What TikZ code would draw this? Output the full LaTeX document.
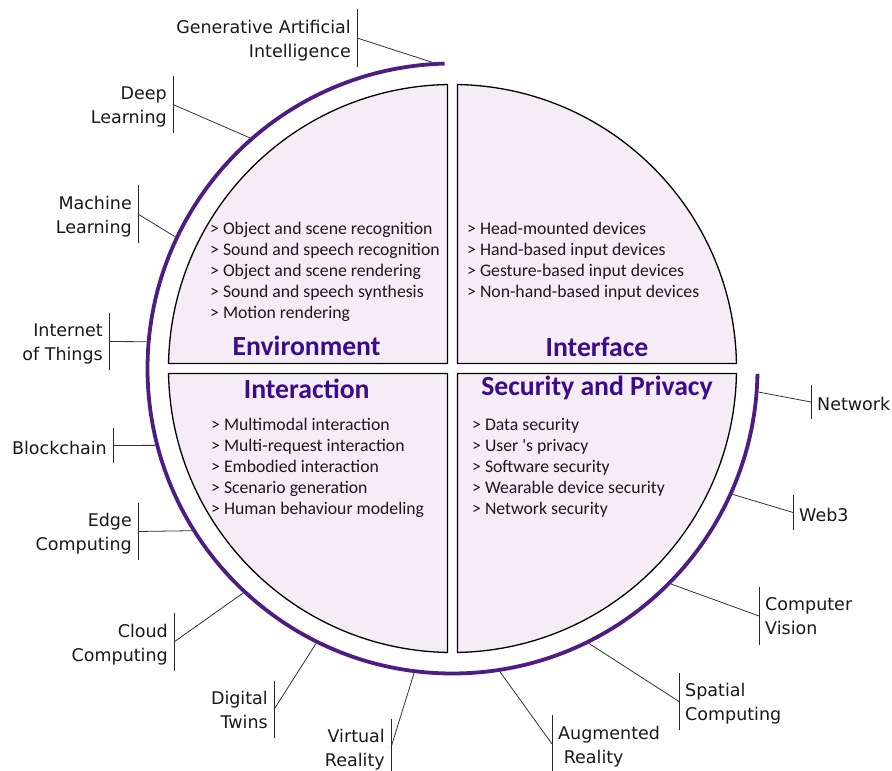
\documentclass[tikz,border=0pt]{standalone}
\usepackage{fontspec}
\setmainfont{DejaVu Sans}
\newfontfamily\carlito{Carlito}

\definecolor{quadfill}{RGB}{246,236,246}
\definecolor{ringcol}{RGB}{78,28,130}
\definecolor{titlecol}{RGB}{58,12,140}

\tikzstyle {quarter} = [draw=black, fill=quadfill, line width=1.3pt]
\tikzstyle {ring} = [draw=ringcol, line width=3.8pt]
\tikzstyle {heading} = [text=titlecol, font=\carlito\bfseries\fontsize{27.7}{32}\selectfont, inner sep=0pt, anchor=base]
\tikzstyle {item} = [text=black!90, font=\carlito\fontsize{17.7}{21}\selectfont, inner sep=0pt, anchor=base west]
\tikzstyle {techlabel} = [text=black!90, font=\fontsize{17.5}{24}\selectfont, inner xsep=6pt, inner ysep=0pt, execute at begin node=\strut, execute at end node=\strut]
\tikzstyle {leftlab} = [techlabel, align=right, anchor=east]
\tikzstyle {rightlab} = [techlabel, align=left, anchor=west]
\tikzstyle {bar} = [draw=black!85, line width=0.9pt]
\tikzstyle {link} = [draw=black!80, line width=0.8pt]

\begin{document}
\begin{tikzpicture}[x=1pt, y=1pt]
\useasboundingbox (0,0) rectangle (892,771);
\coordinate (C) at (452.5,402.5);

% four quarters
\draw[quarter] (447.5,407.5) -- ([shift={(178.99:284pt)}]C) arc[start angle=178.99, end angle=91.01, radius=284pt] -- cycle;
\draw[quarter] (457.5,407.5) -- ([shift={(88.99:284pt)}]C) arc[start angle=88.99, end angle=1.01, radius=284pt] -- cycle;
\draw[quarter] (447.5,397.5) -- ([shift={(181.01:284pt)}]C) arc[start angle=181.01, end angle=268.99, radius=284pt] -- cycle;
\draw[quarter] (457.5,397.5) -- ([shift={(271.01:284pt)}]C) arc[start angle=271.01, end angle=358.99, radius=284pt] -- cycle;

% outer ring
\draw[ring] ([shift={(91.5:305pt)}]C) arc[start angle=91.5, end angle=359, radius=305pt];

% headings
\node[heading] (env) at (306.5,415) {Environment};
\node[heading] (intf) at (597,414) {Interface};
\node[heading] (inter) at (306.7,372) {Interaction};
\node[heading] (sec) at (597,375) {Security and Privacy};

% lists
\foreach \t [count=\i] in {{> Object and scene recognition}, {> Sound and speech recognition}, {> Object and scene rendering}, {> Sound and speech synthesis}, {> Motion rendering}}
  \node[item] (env\i) at (210,557-21*\i) {\t};
\foreach \t [count=\i] in {{> Head-mounted devices}, {> Hand-based input devices}, {> Gesture-based input devices}, {> Non-hand-based input devices}}
  \node[item] (intf\i) at (467,557-21*\i) {\t};
\foreach \t [count=\i] in {{> Multimodal interaction}, {> Multi-request interaction}, {> Embodied interaction}, {> Scenario generation}, {> Human behaviour modeling}}
  \node[item] (inter\i) at (211,361.5-21*\i) {\t};
\foreach \t [count=\i] in {{> Data security}, {> User 's privacy}, {> Software security}, {> Wearable device security}, {> Network security}}
  \node[item] (sec\i) at (472,361.5-21*\i) {\t};

% technologies, left side
\node[leftlab] (gen) at (357,729) {Generative Artificial~\\Intelligence};
\node[leftlab] (deep) at (173,662.5) {Deep~\\Learning};
\node[leftlab] (mach) at (138,553) {Machine~\\Learning};
\node[leftlab] (iot) at (109,425.5) {Internet~\\of Things};
\node[leftlab] (block) at (113,321.5) {Blockchain};
\node[leftlab] (edge) at (138,235.5) {Edge~\\Computing};
\node[leftlab] (cloud) at (174,125) {Cloud~\\Computing};
\node[leftlab] (twin) at (274,57.5) {Digital~\\Twins};
\node[leftlab] (vr) at (391,19.5) {Virtual~\\Reality};

% technologies, right side
\node[rightlab] (net) at (811,365) {Network};
\node[rightlab] (web) at (793,254.5) {Web3};
\node[rightlab] (cv) at (759,151) {Computer\\Vision};
\node[rightlab] (spat) at (679,65.5) {Spatial\\Computing};
\node[rightlab] (ar) at (552,23) {Augmented\\~Reality};

% bars and links to the ring
\foreach \n/\a/\h in {gen/93.85/29, deep/131.3/28.5, mach/154.6/29, iot/175/28.5, block/194.5/17.5, edge/211.9/28.5, cloud/227/29, twin/243.6/28.5, vr/262.8/28.5} {
  \draw[bar] ([yshift=4pt+\h pt]\n.east) -- ([yshift=4pt-\h pt]\n.east);
  \draw[link] ([yshift=4pt]\n.east) -- ([shift={(\a:307pt)}]C);
}
\foreach \n/\a/\h in {net/355.6/17, web/335.8/17.5, cv/315.4/29, spat/296.4/28.5, ar/278.9/28.5} {
  \draw[bar] ([yshift=4pt+\h pt]\n.west) -- ([yshift=4pt-\h pt]\n.west);
  \draw[link] ([yshift=4pt]\n.west) -- ([shift={(\a:307pt)}]C);
}
\end{tikzpicture}
\end{document}
